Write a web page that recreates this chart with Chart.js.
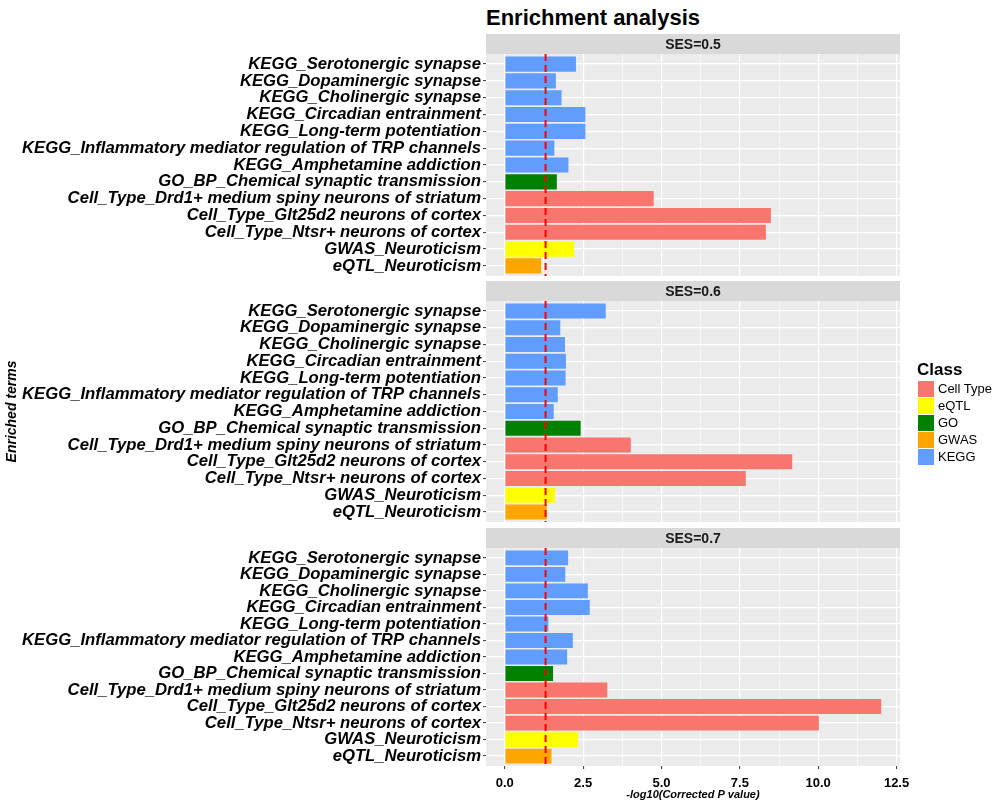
<!DOCTYPE html>
<html>
<head>
<meta charset="utf-8">
<script src="https://cdn.jsdelivr.net/npm/chart.js@4.4.1/dist/chart.umd.min.js"></script>
<style>
  body { margin: 0; background: #fff; }
  #wrap { position: relative; width: 992px; height: 802px; font-family: "Liberation Sans", Arial, sans-serif; }
  #wrap canvas { position: absolute; left: 0; }
  #title { position: absolute; left: 486px; top: 5px; font-size: 22px; font-weight: bold; line-height: 26px; color: #000; }
  #legend { position: absolute; left: 917px; top: 360px; color: #000; }
  #legend .lt { font-size: 17px; font-weight: bold; line-height: 20px; }
  #legend .li { display: flex; align-items: center; height: 17px; font-size: 13px; }
  #legend .sw { width: 16px; height: 16px; margin-right: 3px; border: 0.5px solid #fff; }
</style>
</head>
<body>
<div id="wrap">
  <div id="title">Enrichment analysis</div>
  <canvas id="p1" width="992" height="262" style="top:34px"></canvas>
  <canvas id="p2" width="992" height="261" style="top:281px"></canvas>
  <canvas id="p3" width="992" height="274" style="top:528px"></canvas>
  <div id="legend"></div>
</div>
<script>
// Enriched terms, top to bottom
const terms = [
  "KEGG_Serotonergic synapse",
  "KEGG_Dopaminergic synapse",
  "KEGG_Cholinergic synapse",
  "KEGG_Circadian entrainment",
  "KEGG_Long-term potentiation",
  "KEGG_Inflammatory mediator regulation of TRP channels",
  "KEGG_Amphetamine addiction",
  "GO_BP_Chemical synaptic transmission",
  "Cell_Type_Drd1+ medium spiny neurons of striatum",
  "Cell_Type_Glt25d2 neurons of cortex",
  "Cell_Type_Ntsr+ neurons of cortex",
  "GWAS_Neuroticism",
  "eQTL_Neuroticism"
];

// Class of each bar as coloured in the figure (the GWAS / eQTL rows are swapped there)
const rowClass = ["KEGG", "KEGG", "KEGG", "KEGG", "KEGG", "KEGG", "KEGG",
                  "GO", "Cell Type", "Cell Type", "Cell Type", "eQTL", "GWAS"];

const classNames  = ["Cell Type", "eQTL", "GO", "GWAS", "KEGG"];
const classColors = ["#F8766D", "#FFFF00", "#008000", "#FFA500", "#619CFF"];

const panelLabels = ["SES=0.5", "SES=0.6", "SES=0.7"];

// -log10(corrected P value) per term
const ses05 = [2.27, 1.63, 1.81, 2.57, 2.57, 1.58, 2.03, 1.66, 4.75, 8.49, 8.33, 2.21, 1.16];
const ses06 = [3.22, 1.77, 1.92, 1.95, 1.94, 1.69, 1.56, 2.42, 4.02, 9.17, 7.69, 1.60, 1.34];
const ses07 = [2.02, 1.93, 2.65, 2.71, 1.39, 2.17, 1.99, 1.54, 3.27, 12.01, 10.02, 2.34, 1.49];

const xTickLabels = ["0.0", "2.5", "5.0", "7.5", "10.0", "12.5"];
const threshold = 1.301;   // -log10(0.05)

// shared axis limits (ggplot style expansion)
const xMin = -0.6, xMax = 12.61;
const yMin = -0.6, yMax = terms.length - 1 + 0.6;

const FONT = '"Liberation Sans", Arial, sans-serif';
Chart.defaults.font.family = FONT;

const colorOf = c => classColors[classNames.indexOf(c)];

// grey panel + facet strip
const panelDecor = {
  id: 'panelDecor',
  beforeDraw(chart, args, opts) {
    const { ctx, chartArea: a } = chart;
    ctx.save();
    ctx.fillStyle = '#EBEBEB';
    ctx.fillRect(a.left, a.top, a.right - a.left, a.bottom - a.top);
    ctx.fillStyle = '#D9D9D9';
    ctx.fillRect(a.left, a.top - 20, a.right - a.left, 20);
    ctx.fillStyle = '#1A1A1A';
    ctx.font = 'bold 14px ' + FONT;
    ctx.textAlign = 'center';
    ctx.textBaseline = 'middle';
    ctx.fillText(opts.label, (a.left + a.right) / 2, a.top - 9);
    ctx.restore();
  }
};

function isMajor(v) {
  return xTickLabels.includes(v.toFixed(1));
}

function makePanel(id, label, values, showX, showYTitle) {
  new Chart(document.getElementById(id), {
    type: 'bar',
    data: {
      datasets: [
        {
          type: 'line',
          data: [{ x: threshold, y: yMin }, { x: threshold, y: yMax }],
          borderColor: '#FF0000',
          borderWidth: 2,
          borderDash: [7, 4],
          pointRadius: 0,
          order: 0
        },
        {
          data: values.map((v, i) => ({ x: v, y: i })),
          backgroundColor: rowClass.map(colorOf),
          borderWidth: 0,
          barPercentage: 0.9,
          categoryPercentage: 1,
          order: 1
        }
      ]
    },
    plugins: [panelDecor],
    options: {
      indexAxis: 'y',
      responsive: false,
      animation: false,
      layout: { padding: { top: 20, left: 0, right: 92, bottom: showX ? 0 : 20 } },
      plugins: {
        legend: { display: false },
        tooltip: { enabled: false },
        panelDecor: { label: label }
      },
      scales: {
        x: {
          type: 'linear',
          min: xMin,
          max: xMax,
          offset: false,
          border: { display: false },
          afterFit: s => { s.height = showX ? 36 : 0; },
          ticks: {
            display: showX,
            stepSize: 1.25,
            includeBounds: false,
            padding: 7,
            color: '#000',
            font: { size: 13, weight: 'bold', lineHeight: 1.2 },
            callback: v => isMajor(v) ? v.toFixed(1) : ''
          },
          grid: {
            offset: false,
            color: '#FFFFFF',
            lineWidth: c => (c.tick && isMajor(c.tick.value)) ? 1.2 : 0.6,
            drawTicks: showX,
            tickLength: 3,
            tickWidth: 1,
            tickColor: c => (c.tick && isMajor(c.tick.value)) ? '#333333' : 'rgba(0,0,0,0)'
          },
          title: {
            display: showX,
            text: '-log10(Corrected P value)',
            color: '#000',
            padding: { top: 0, bottom: 0 },
            font: { size: 11, weight: 'bold', style: 'italic' }
          }
        },
        y: {
          type: 'linear',
          reverse: true,
          min: yMin,
          max: yMax,
          offset: false,
          border: { display: false },
          afterFit: s => { s.width = 486; },
          ticks: {
            stepSize: 1,
            includeBounds: false,
            autoSkip: false,
            padding: 2,
            color: '#000',
            font: { size: 16.7, weight: 'bold', style: 'italic', lineHeight: 1 },
            callback: v => terms[v]
          },
          grid: {
            offset: false,
            color: '#FFFFFF',
            lineWidth: 1.2,
            tickLength: 3,
            tickWidth: 1,
            tickColor: '#333333'
          },
          title: {
            display: showYTitle,
            text: 'Enriched terms',
            color: '#000',
            padding: { top: 4, bottom: 0 },
            font: { size: 14, weight: 'bold', style: 'italic' }
          }
        }
      }
    }
  });
}

makePanel('p1', panelLabels[0], ses05, false, false);
makePanel('p2', panelLabels[1], ses06, false, true);
makePanel('p3', panelLabels[2], ses07, true, false);

// legend
const legend = document.getElementById('legend');
let html = '<div class="lt">Class</div>';
classNames.forEach((c, i) => {
  html += '<div class="li"><span class="sw" style="background:' + classColors[i] + '"></span>' + c + '</div>';
});
legend.innerHTML = html;
</script>
</body>
</html>
